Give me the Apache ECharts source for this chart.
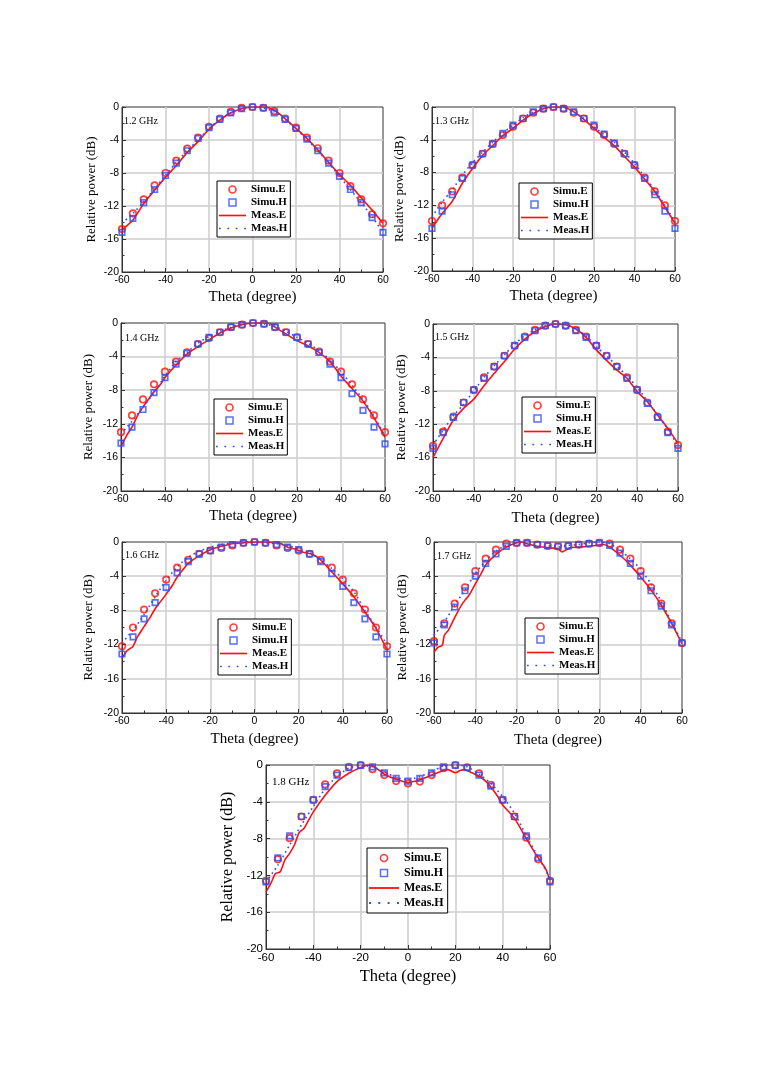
<!DOCTYPE html>
<html>
<head>
<meta charset="utf-8">
<script src="https://cdn.jsdelivr.net/npm/echarts@6/dist/echarts.min.js"></script>
<style>
html,body{margin:0;padding:0;background:#fff;}
#main{width:763px;height:1079px;}
</style>
</head>
<body>
<div id="main"></div>
<script>
// ---------- DATA ----------
const theta5 = [-60,-55,-50,-45,-40,-35,-30,-25,-20,-15,-10,-5,0,5,10,15,20,25,30,35,40,45,50,55,60];
const freqLabels = ['1.2 GHz','1.3 GHz','1.4 GHz','1.5 GHz','1.6 GHz','1.7 GHz','1.8 GHz'];
const xTicks = [-60,-40,-20,0,20,40,60];
const yTicks = [-20,-16,-12,-8,-4,0];

// 1.2 GHz
const simuE_12 = [-14.8,-12.9,-11.2,-9.5,-8,-6.5,-5.05,-3.7,-2.4,-1.4,-0.6,-0.1,0,-0.1,-0.5,-1.4,-2.5,-3.7,-5,-6.5,-8,-9.6,-11.2,-13,-14.1];
const simuH_12 = [-15.2,-13.5,-11.6,-10,-8.3,-6.8,-5.3,-3.8,-2.5,-1.5,-0.7,-0.2,0,-0.1,-0.7,-1.5,-2.6,-3.9,-5.3,-6.8,-8.4,-10,-11.6,-13.4,-15.2];
const measE_12_theta = theta5;
const measE_12 = [-14.9,-13.7,-11.7,-10.1,-8.5,-7.1,-5.5,-4.2,-2.7,-1.6,-0.7,-0.2,0,0,-0.4,-1.4,-2.6,-3.8,-5.2,-6.7,-8.2,-9.5,-11,-12.5,-14.1];
const measH_12 = [-14.1,-12.9,-11.5,-9.9,-8.3,-6.7,-5.3,-4,-2.6,-1.5,-0.7,-0.2,0,-0.1,-0.6,-1.5,-2.7,-3.9,-5.3,-6.8,-8.4,-10,-11.6,-13.3,-15.2];

// 1.3 GHz
const simuE_13 = [-13.9,-12,-10.3,-8.6,-7.1,-5.7,-4.5,-3.4,-2.4,-1.4,-0.7,-0.2,0,-0.2,-0.7,-1.4,-2.4,-3.4,-4.5,-5.7,-7.1,-8.6,-10.3,-12,-13.9];
const simuH_13 = [-14.8,-12.7,-10.7,-8.7,-7.1,-5.7,-4.5,-3.2,-2.2,-1.4,-0.6,-0.2,0,-0.2,-0.6,-1.4,-2.2,-3.3,-4.4,-5.7,-7.1,-8.7,-10.7,-12.7,-14.8];
const measE_13_theta = theta5;
const measE_13 = [-14.8,-13,-11.5,-9.3,-7.5,-5.9,-4.7,-3.5,-2.6,-1.6,-0.8,-0.2,0,0,-0.6,-1.5,-2.6,-3.7,-4.7,-6,-7.3,-8.8,-10.3,-12.2,-14.2];
const measH_13 = [-13.4,-11.6,-10.1,-8.3,-6.8,-5.5,-4.3,-3.2,-2.2,-1.3,-0.6,-0.1,0,-0.1,-0.6,-1.4,-2.4,-3.4,-4.3,-5.5,-6.9,-8.5,-10.1,-12,-14];

// 1.4 GHz
const simuE_14 = [-13,-11,-9.1,-7.3,-5.8,-4.6,-3.5,-2.5,-1.8,-1.1,-0.5,-0.2,0,-0.1,-0.5,-1.1,-1.7,-2.5,-3.4,-4.6,-5.8,-7.3,-9.1,-11,-13];
const simuH_14 = [-14.3,-12.4,-10.3,-8.3,-6.5,-4.9,-3.6,-2.5,-1.7,-1.1,-0.5,-0.2,0,-0.1,-0.5,-1.1,-1.7,-2.5,-3.5,-4.9,-6.5,-8.4,-10.4,-12.4,-14.4];
const measE_14_theta = [-60,-57,-55,-52,-50,-47,-45,-42,-40,-35,-30,-25,-20,-15,-10,-5,0,5,8,10,15,20,25,30,35,40,45,50,55,60];
const measE_14 = [-14.7,-13.2,-12.4,-10.8,-10,-8.9,-8.2,-7.3,-6.5,-5,-3.7,-2.8,-2,-1.2,-0.6,-0.2,0,0,-0.1,-0.5,-1.3,-2.1,-2.7,-3.5,-4.6,-6.3,-7.8,-9.3,-11.3,-13.6];
const measH_14 = [-13.2,-11.7,-10,-8.3,-6.3,-4.6,-3.5,-2.4,-1.6,-1,-0.5,-0.1,0,-0.1,-0.4,-1,-1.7,-2.4,-3.3,-4.4,-5.8,-7.4,-9.1,-11.1,-13.4];

// 1.5 GHz
const simuE_15 = [-14.6,-12.9,-11.1,-9.4,-7.9,-6.4,-5.1,-3.8,-2.6,-1.5,-0.7,-0.2,0,-0.2,-0.7,-1.5,-2.6,-3.8,-5.1,-6.4,-7.9,-9.4,-11.1,-12.9,-14.5];
const simuH_15 = [-14.9,-13,-11.2,-9.4,-7.9,-6.5,-5.1,-3.8,-2.6,-1.6,-0.8,-0.2,0,-0.2,-0.8,-1.6,-2.6,-3.8,-5.1,-6.5,-7.9,-9.5,-11.2,-13,-14.9];
const measE_15_theta = theta5;
const measE_15 = [-16,-13.7,-11.5,-10.1,-9,-7.4,-5.9,-4.5,-3,-1.8,-0.9,-0.3,0,-0.1,-0.6,-1.6,-3.1,-4.35,-5.5,-6.5,-8.1,-9.3,-10.9,-12.5,-14.3];
const measH_15 = [-14.5,-12.7,-11,-9.6,-8,-6.4,-5,-3.7,-2.4,-1.4,-0.7,-0.2,0,-0.1,-0.6,-1.4,-2.7,-3.8,-5,-6.2,-7.6,-9.2,-10.9,-12.6,-14.6];

// 1.6 GHz
const simuE_16 = [-12.2,-10,-7.9,-6,-4.4,-3,-2.1,-1.4,-1,-0.7,-0.4,-0.1,0,-0.1,-0.4,-0.7,-1,-1.4,-2.1,-3,-4.4,-6,-7.9,-10,-12.2];
const simuH_16 = [-13.1,-11.1,-9,-7.1,-5.3,-3.6,-2.3,-1.4,-1,-0.6,-0.3,-0.1,0,-0.1,-0.3,-0.6,-0.9,-1.4,-2.3,-3.7,-5.2,-7.1,-9,-11.1,-13.1];
const measE_16_theta = [-60,-58,-56,-55,-53,-50,-47,-45,-42,-40,-37,-35,-32,-30,-25,-20,-15,-10,-5,0,5,10,12,15,18,20,22,25,28,30,35,40,45,50,55,60];
const measE_16 = [-13.6,-12.8,-12.4,-12.2,-11.1,-9.9,-8.7,-7.8,-6.8,-6.1,-5,-4.1,-3.1,-2.5,-1.6,-0.9,-0.5,-0.2,-0.1,0,0,-0.1,-0.2,-0.6,-0.8,-1,-1.2,-1.35,-1.7,-2.1,-3.5,-4.9,-6.4,-8.2,-10.1,-12.6];
const measH_16 = [-11.8,-10.3,-8.5,-6.4,-4.5,-2.9,-1.8,-1.05,-0.6,-0.3,-0.1,0,0,-0.1,-0.2,-0.4,-0.8,-1.25,-2.1,-3.1,-4.3,-5.8,-8,-9.9,-12];

// 1.7 GHz
const simuE_17 = [-11.6,-9.5,-7.2,-5.3,-3.4,-1.95,-0.9,-0.2,-0.1,-0.1,-0.3,-0.45,-0.5,-0.45,-0.3,-0.2,-0.1,-0.2,-0.9,-1.95,-3.4,-5.3,-7.2,-9.5,-11.8];
const simuH_17 = [-11.8,-9.7,-7.6,-5.7,-4,-2.5,-1.4,-0.5,-0.1,-0.1,-0.3,-0.45,-0.5,-0.45,-0.3,-0.2,-0.1,-0.4,-1.3,-2.5,-4,-5.7,-7.5,-9.7,-11.8];
const measE_17_theta = [-60,-58,-56,-55,-53,-50,-47,-45,-43,-40,-37,-35,-30,-25,-20,-18,-15,-10,-5,0,2,4,6,10,15,20,22,25,30,35,40,45,50,55,60];
const measE_17 = [-12.9,-12.3,-12.1,-10.9,-10.3,-8.85,-7.5,-6.8,-6.2,-4.9,-3.6,-2.7,-1.45,-0.6,-0.1,0,-0.2,-0.5,-0.65,-0.8,-1.15,-0.9,-0.65,-0.6,-0.5,-0.35,-0.3,-0.6,-1.55,-2.7,-4.1,-5.6,-7.4,-9.55,-11.9];
const measH_17 = [-10.9,-9.35,-7.4,-5.6,-3.7,-2.2,-1.05,-0.4,-0.1,-0.2,-0.5,-0.45,-0.6,-0.4,-0.3,-0.1,0,-0.2,-1,-1.95,-3.2,-4.9,-7,-9.35,-11.7];

// 1.8 GHz
const simuE_18 = [-12.6,-10.25,-7.95,-5.6,-3.8,-2.1,-0.9,-0.2,0,-0.45,-1.1,-1.75,-2,-1.8,-1.1,-0.35,0,-0.25,-0.9,-2.15,-3.8,-5.6,-7.9,-10.25,-12.6];
const simuH_18 = [-12.7,-10.1,-7.7,-5.6,-3.8,-2.35,-1.1,-0.3,-0.05,-0.2,-0.85,-1.45,-1.75,-1.45,-0.85,-0.2,-0.05,-0.3,-1.1,-2.3,-3.8,-5.6,-7.7,-10.1,-12.7];
const measE_18_theta = [-60,-58,-56,-54,-52,-50,-48,-46,-44,-42,-40,-35,-30,-25,-22,-20,-17,-15,-12,-10,-5,0,5,10,15,17,20,22,24,27,30,33,35,38,40,45,50,55,58,60];
const measE_18 = [-13.8,-12.9,-11.8,-11.6,-10.3,-9.6,-8.7,-7.35,-6.9,-6,-5.1,-3.3,-1.8,-0.9,-0.5,-0.3,0,-0.1,-0.6,-1,-1.55,-1.9,-1.6,-1.1,-0.6,-0.5,-0.85,-0.6,-0.5,-0.85,-1.2,-1.8,-2.4,-3.45,-4.35,-5.8,-8,-10.1,-11.2,-12.5];
const measH_18 = [-12.7,-10.9,-8.7,-6.5,-4.5,-2.6,-1.25,-0.35,-0.07,-0.2,-0.75,-1.35,-1.6,-1.25,-0.75,-0.1,0,-0.2,-1,-2,-3.45,-5.25,-7.7,-10,-12.3];

const panelData = [
  {sE:simuE_12, sH:simuH_12, mEt:measE_12_theta, mE:measE_12, mH:measH_12},
  {sE:simuE_13, sH:simuH_13, mEt:measE_13_theta, mE:measE_13, mH:measH_13},
  {sE:simuE_14, sH:simuH_14, mEt:measE_14_theta, mE:measE_14, mH:measH_14},
  {sE:simuE_15, sH:simuH_15, mEt:measE_15_theta, mE:measE_15, mH:measH_15},
  {sE:simuE_16, sH:simuH_16, mEt:measE_16_theta, mE:measE_16, mH:measH_16},
  {sE:simuE_17, sH:simuH_17, mEt:measE_17_theta, mE:measE_17, mH:measH_17},
  {sE:simuE_18, sH:simuH_18, mEt:measE_18_theta, mE:measE_18, mH:measH_18}
];

// ---------- LAYOUT ----------
const layout = [
  {g:[122,107,261,165], leg:[217,181], tl:[124,122], yg:24,   xg:17.5, big:false},
  {g:[432,107,243,164], leg:[519,183], tl:[435,122], yg:26,   xg:18,   big:false},
  {g:[121,323,264,168], leg:[214,399], tl:[125,339], yg:26,   xg:18,   big:false},
  {g:[433,324,245,167], leg:[522,397], tl:[435,338], yg:25,   xg:19.5, big:false},
  {g:[122,542,265,171], leg:[218,619], tl:[125,556], yg:27,   xg:18.5, big:false},
  {g:[434,542,248,171], leg:[525,618], tl:[437,557], yg:25,   xg:20,   big:false},
  {g:[266,765,284,184], leg:[367,848], tl:[272,783], yg:30,   xg:19.5, big:true}
];

const RED = '#ff1010';
const BLUE = '#2d4df5';
const SERIF = '"Liberation Serif","Times New Roman",serif';
const SANS = '"Liberation Sans",Arial,sans-serif';
const ICON_SOLID = 'path://M0,0H28V1.7H0Z';
const ICON_DOTS = 'path://M0,0H1.8V1.7H0Z M8.7,0H10.5V1.7H8.7Z M17.4,0H19.2V1.7H17.4Z M26.2,0H28V1.7H26.2Z';
const ICON_SQUARE = 'path://M0,0H10V10H0Z';

const zip = (a,b) => a.map((v,i)=>[v,b[i]]);

const grids=[], xAxes=[], yAxes=[], series=[], legends=[], titles=[];

layout.forEach((L,i)=>{
  const D = panelData[i];
  const tickFs = L.big ? 11.5 : 10.5;
  const xNameFs = L.big ? 16.5 : 15;
  const yNameFs = L.big ? 16 : 13;
  grids.push({left:L.g[0], top:L.g[1], width:L.g[2], height:L.g[3], show:true,
    borderColor:'#333', borderWidth:1, backgroundColor:'rgba(0,0,0,0)', containLabel:false});
  const common = {
    gridIndex:i, type:'value',
    axisLine:{show:true, onZero:false, lineStyle:{color:'#333', width:1}},
    axisTick:{show:true, inside:true, length:4, lineStyle:{color:'#333'}},
    minorTick:{show:true, splitNumber:2, length:2.5, lineStyle:{color:'#333'}},
    splitLine:{show:true, showMinLine:false, showMaxLine:false, lineStyle:{color:'#cdcdcd', width:1.5}},
    nameLocation:'middle'
  };
  xAxes.push(Object.assign({}, common, {
    min:xTicks[0], max:xTicks[xTicks.length-1], interval:20,
    axisLabel:{color:'#000', fontSize:tickFs, fontFamily:SANS, margin:3},
    name:'Theta (degree)', nameGap:L.xg,
    nameTextStyle:{color:'#000', fontSize:xNameFs, fontFamily:SERIF}
  }));
  yAxes.push(Object.assign({}, common, {
    min:yTicks[0], max:yTicks[yTicks.length-1], interval:4,
    axisLabel:{color:'#000', fontSize:tickFs, fontFamily:SANS, margin:3},
    name:'Relative power (dB)', nameGap:L.yg, nameRotate:90,
    nameTextStyle:{color:'#000', fontSize:yNameFs, fontFamily:SERIF}
  }));
  series.push({
    name:'Meas.E', type:'line', xAxisIndex:i, yAxisIndex:i, data:zip(D.mEt, D.mE),
    showSymbol:false, symbol:'none', smooth:0.25, z:2,
    lineStyle:{color:RED, width:1.6}, itemStyle:{color:RED}
  });
  series.push({
    name:'Meas.H', type:'line', xAxisIndex:i, yAxisIndex:i, data:zip(theta5, D.mH),
    showSymbol:false, symbol:'none', smooth:0.25, z:2,
    lineStyle:{color:BLUE, width:1.6, type:[1.6,3.4]}, itemStyle:{color:BLUE}
  });
  series.push({
    name:'Simu.E', type:'scatter', xAxisIndex:i, yAxisIndex:i, data:zip(theta5, D.sE),
    symbol:'circle', symbolSize:6.5, z:3,
    itemStyle:{color:'rgba(0,0,0,0)', borderColor:RED, borderWidth:1.7}
  });
  series.push({
    name:'Simu.H', type:'scatter', xAxisIndex:i, yAxisIndex:i, data:zip(theta5, D.sH),
    symbol:'rect', symbolSize:5.5, z:3,
    itemStyle:{color:'rgba(0,0,0,0)', borderColor:BLUE, borderWidth:1.7}
  });
  const legFs = L.big ? 12 : 11;
  legends.push({
    left:L.leg[0], top:L.leg[1], orient:'vertical', selectedMode:false,
    backgroundColor:'#fff', borderColor:'#000', borderWidth:1,
    padding:L.big?[4,4,4,2]:[3,3,3,2], itemGap:L.big?3:2, itemWidth:L.big?30:27, itemHeight:7,
    textStyle:{fontFamily:SERIF, fontWeight:'bold', fontSize:legFs, color:'#000', lineHeight:legFs},
    data:[
      {name:'Simu.E', icon:'circle', itemStyle:{color:'rgba(0,0,0,0)', borderColor:RED, borderWidth:1.7}},
      {name:'Simu.H', icon:ICON_SQUARE, itemStyle:{color:'rgba(0,0,0,0)', borderColor:BLUE, borderWidth:1.5}},
      {name:'Meas.E', icon:ICON_SOLID, itemStyle:{color:RED, borderWidth:0}},
      {name:'Meas.H', icon:ICON_DOTS, itemStyle:{color:BLUE, borderWidth:0}}
    ]
  });
  const tFs = L.big ? 11 : 10;
  titles.push({
    text:freqLabels[i], left:L.tl[0], top:L.tl[1]-tFs/2-1, padding:0,
    textStyle:{fontFamily:SERIF, fontWeight:'normal', fontSize:tFs, color:'#000'}
  });
});

const chart = echarts.init(document.getElementById('main'), null, {renderer:'canvas'});
chart.setOption({
  animation:false,
  backgroundColor:'#fff',
  title:titles,
  grid:grids,
  xAxis:xAxes,
  yAxis:yAxes,
  legend:legends,
  series:series
});
</script>
</body>
</html>
